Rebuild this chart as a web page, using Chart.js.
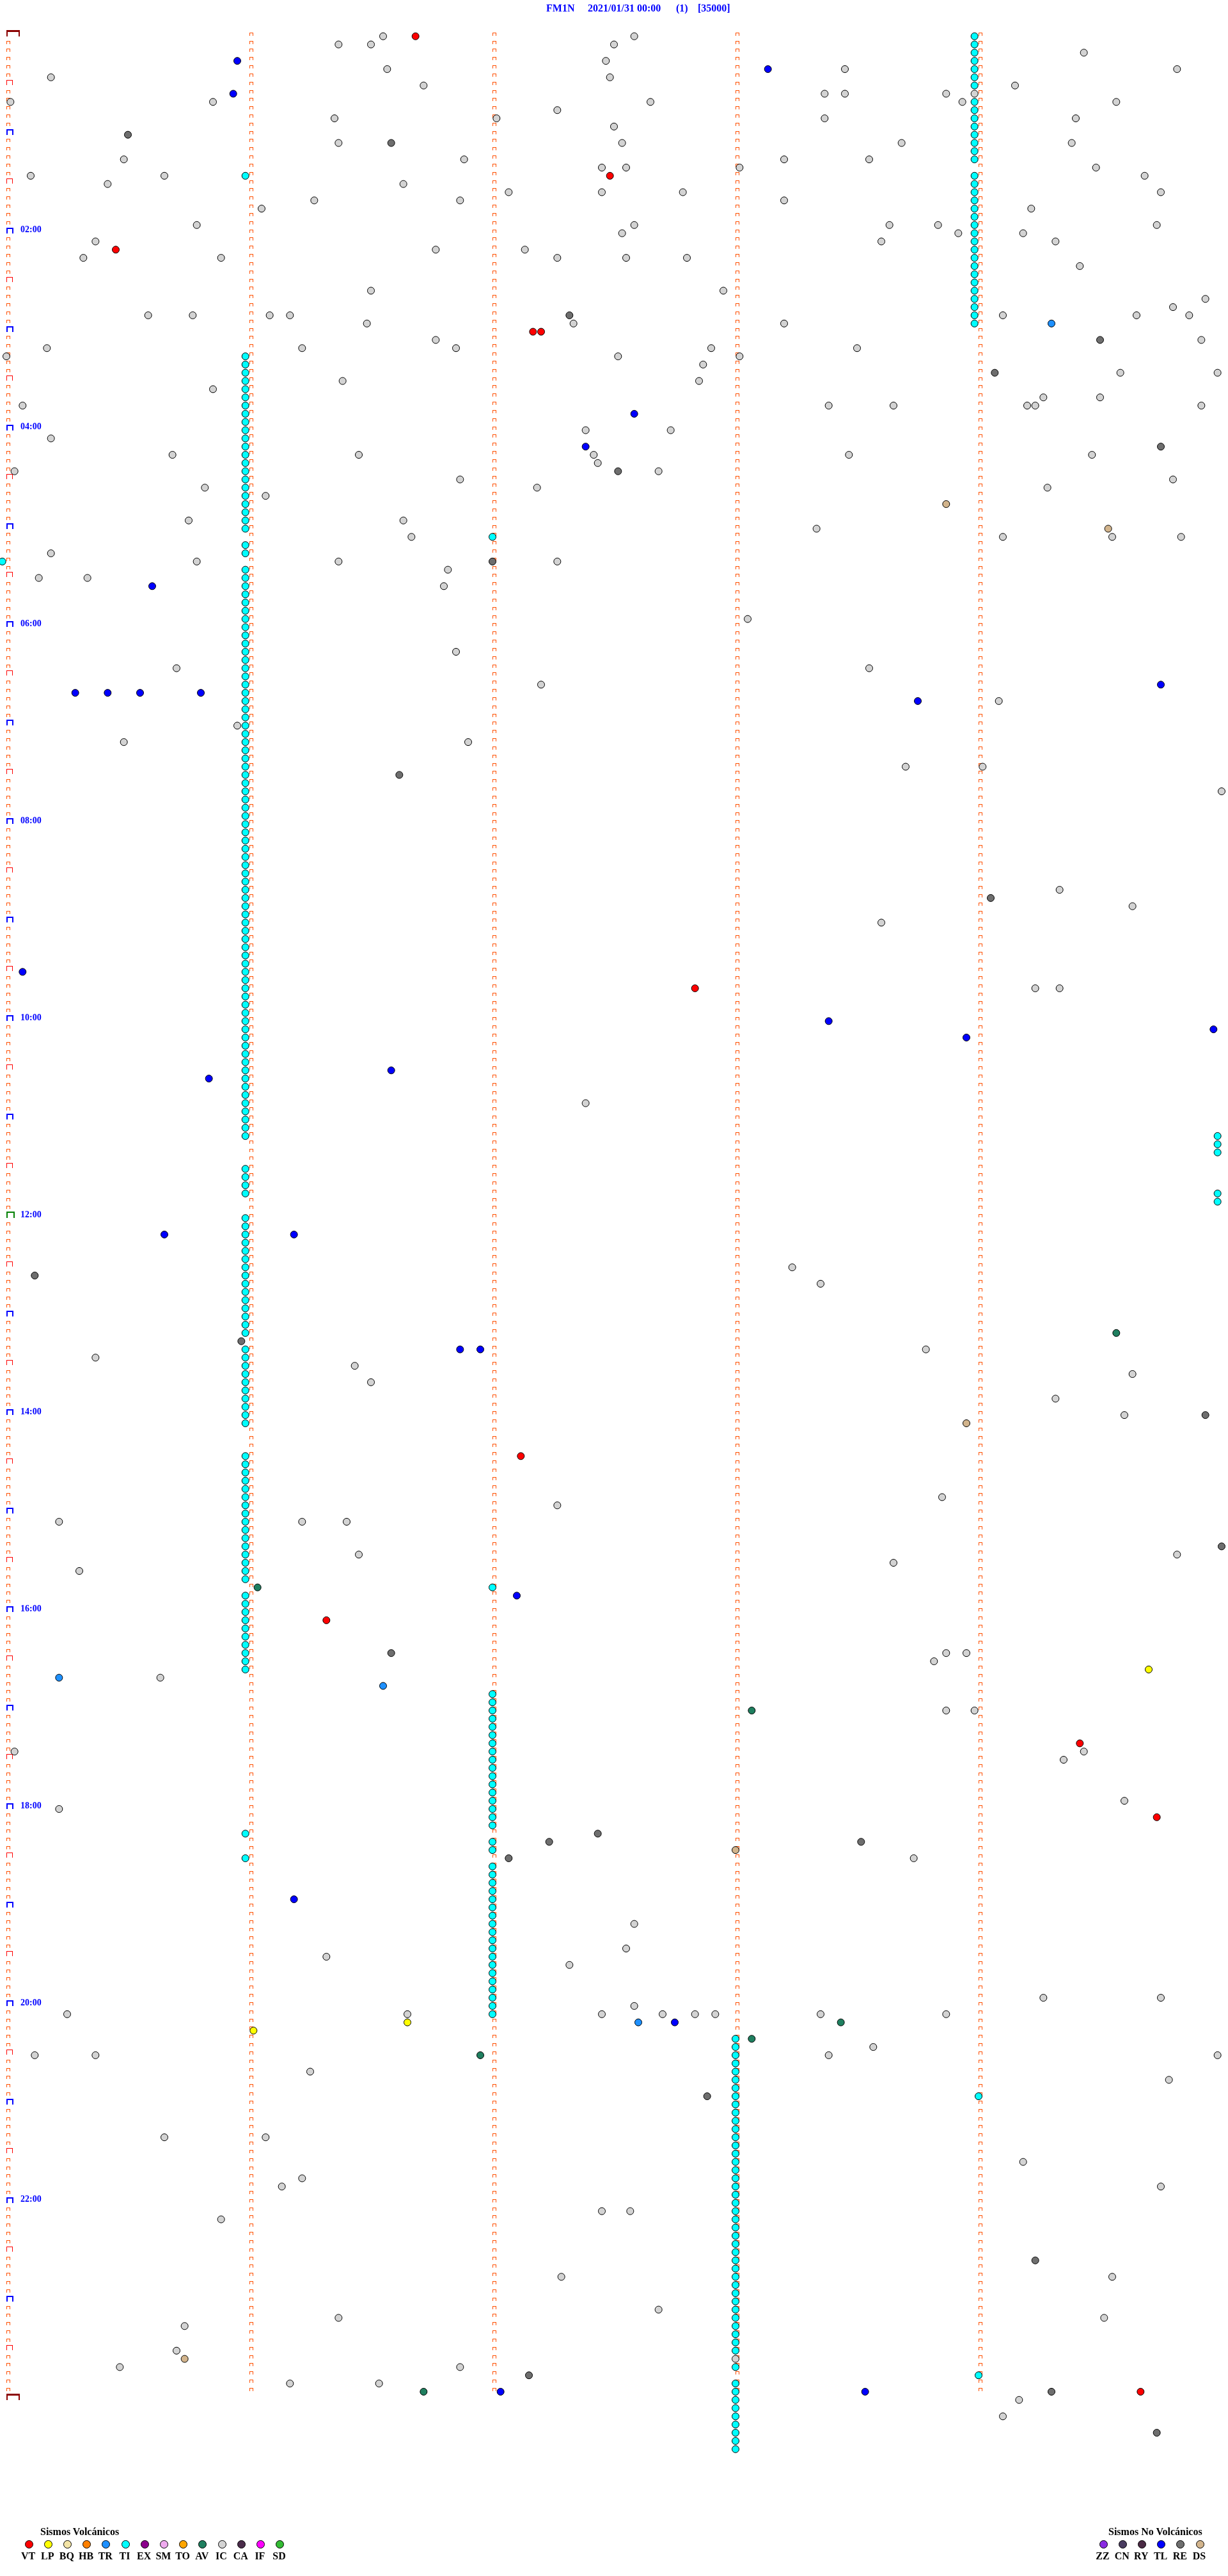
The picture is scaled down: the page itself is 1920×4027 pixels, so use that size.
<!DOCTYPE html>
<html>
<head>
<meta charset="utf-8">
<title>FM1N 2021/01/31</title>
<script src="https://cdn.jsdelivr.net/npm/chart.js@4.4.1/dist/chart.umd.min.js"></script>
<style>
  html, body { margin: 0; padding: 0; background: #fff; }
  #page { position: relative; width: 1920px; height: 4027px; overflow: hidden; }
  #heli { position: absolute; left: 0; top: 0; }
  .txt { position: absolute; font-family: "Liberation Serif", "Times New Roman", serif; font-weight: bold;
         font-size: 16px; line-height: 16px; white-space: nowrap; }
  .title { color: #0000ff; top: 5px; }
  .dot { position: absolute; width: 11px; height: 11px; border: 1px solid #000; border-radius: 50%; }
  .lbl { width: 40px; text-align: center; color: #000; }
</style>
</head>
<body>
<div id="page">
  <canvas id="heli" width="1920" height="4027"></canvas>
  <span class="txt title" style="left:854px">FM1N</span>
  <span class="txt title" style="left:919px">2021/01/31 00:00</span>
  <span class="txt title" style="left:1057px">(1)</span>
  <span class="txt title" style="left:1091px">[35000]</span>
  <span class="txt" style="left:63px;top:3950px">Sismos Volcánicos</span>
  <span class="txt" style="left:1733px;top:3950px">Sismos No Volcánicos</span>
  <div id="legend"></div>
</div>
<script>
// every event is [row, second]: a row is one 5 minute line of the day (row 0 = 00:00),
// second is where the event falls inside that line (0 - 300)
const VT = [[0, 101], [17, 149], [26, 27], [36, 130], [36, 132], [116, 170], [173, 127], [193, 79],
  [208, 265], [217, 284], [287, 280]];
const LP = [[199, 282], [242, 99], [243, 61]];
const TR = [[35, 258], [200, 13], [201, 93], [242, 156]];
const AV = [[158, 274], [189, 62], [204, 184], [242, 206], [244, 184], [246, 117], [287, 103]];
const TL = [[3, 57], [4, 188], [7, 56], [46, 155], [50, 143], [67, 36], [79, 285], [80, 17], [80, 25],
  [80, 33], [80, 48], [81, 225], [114, 4], [120, 203], [121, 298], [122, 237], [126, 95], [127, 50],
  [146, 39], [146, 71], [160, 112], [160, 117], [190, 126], [227, 71], [242, 165], [287, 122], [287, 212]];
const RE = [[12, 30], [13, 95], [34, 139], [37, 270], [41, 244], [50, 285], [53, 151], [64, 120],
  [90, 97], [105, 243], [151, 7], [159, 58], [168, 296], [184, 300], [197, 95], [219, 146], [220, 134],
  [220, 211], [222, 124], [251, 173], [271, 254], [285, 129], [287, 258], [292, 284]];
const DS = [[57, 232], [60, 272], [169, 237], [221, 180], [283, 44]];
const IC = [
  [0, 93], [0, 155], [1, 82], [1, 90], [1, 150], [2, 266], [3, 148], [4, 94], [4, 207], [4, 289],
  [5, 11], [5, 149], [6, 103], [6, 249], [7, 202], [7, 207], [7, 232], [7, 239], [8, 1], [8, 51],
  [8, 159], [8, 236], [8, 274], [9, 136], [10, 81], [10, 121], [10, 202], [10, 264], [11, 150],
  [13, 82], [13, 152], [13, 221], [13, 263], [15, 29], [15, 113], [15, 192], [15, 213], [16, 147],
  [16, 153], [16, 181], [16, 269], [17, 6], [17, 39], [17, 281], [18, 25], [18, 98], [19, 124],
  [19, 147], [19, 167], [19, 285], [20, 76], [20, 112], [20, 192], [21, 63], [21, 253], [23, 47],
  [23, 155], [23, 218], [23, 230], [23, 284], [24, 152], [24, 235], [24, 251], [25, 22], [25, 216],
  [25, 259], [26, 106], [26, 128], [27, 19], [27, 53], [27, 136], [27, 153], [27, 168], [28, 265],
  [31, 90], [31, 177], [32, 296], [33, 288], [34, 35], [34, 46], [34, 65], [34, 70], [34, 246],
  [34, 279], [34, 292], [35, 89], [35, 140], [35, 192], [37, 106], [37, 295], [38, 10], [38, 73],
  [38, 111], [38, 174], [38, 210], [39, 0], [39, 151], [39, 181], [40, 172], [41, 275], [41, 299],
  [42, 83], [42, 171], [43, 51], [44, 256], [44, 270], [45, 4], [45, 203], [45, 219], [45, 252],
  [45, 254], [45, 295], [48, 143], [48, 164], [49, 11], [51, 41], [51, 87], [51, 145], [51, 208],
  [51, 268], [52, 146], [53, 2], [53, 161], [54, 112], [54, 288], [55, 49], [55, 131], [55, 257],
  [56, 64], [59, 45], [59, 98], [60, 200], [61, 100], [61, 246], [61, 273], [61, 290], [63, 11],
  [64, 47], [64, 82], [64, 136], [65, 109], [66, 8], [66, 20], [67, 108], [71, 183], [75, 111],
  [77, 42], [77, 213], [79, 132], [81, 245], [84, 57], [86, 29], [86, 114], [89, 222], [89, 241],
  [92, 300], [104, 260], [106, 278], [108, 216], [116, 254], [116, 260], [130, 143], [150, 194],
  [152, 201], [160, 227], [161, 22], [162, 86], [163, 278], [164, 90], [166, 259], [168, 276],
  [178, 231], [179, 136], [181, 13], [181, 73], [181, 84], [185, 87], [185, 289], [186, 219],
  [187, 18], [197, 232], [197, 237], [198, 229], [200, 38], [204, 232], [204, 239], [209, 2],
  [209, 266], [210, 261], [215, 276], [216, 13], [222, 224], [230, 155], [233, 153], [234, 79],
  [235, 139], [239, 256], [239, 285], [240, 155], [241, 15], [241, 99], [241, 147], [241, 162],
  [241, 170], [241, 175], [241, 201], [241, 232], [245, 214], [246, 7], [246, 22], [246, 203],
  [246, 299], [248, 75], [249, 287], [256, 39], [256, 64], [259, 251], [261, 73], [262, 68],
  [262, 285], [265, 147], [265, 154], [266, 53], [273, 137], [273, 273], [277, 161], [278, 82],
  [278, 271], [279, 44], [282, 42], [283, 180], [284, 28], [284, 112], [286, 70], [286, 92],
  [288, 250], [290, 246]
];
// tremor (TI) comes as unbroken runs, one dot per line: [first row, last row, second]
const TI_RUNS = [
  [0, 6, 239], [8, 15, 239], [17, 35, 239], [251, 251, 240], [285, 285, 240],
  [17, 17, 59], [39, 60, 59], [62, 63, 59], [65, 134, 59], [138, 141, 59], [144, 158, 59],
  [160, 169, 59], [173, 188, 59], [190, 199, 59], [219, 219, 59], [222, 222, 59],
  [61, 61, 120], [189, 189, 120], [202, 218, 120], [220, 221, 120], [223, 241, 120],
  [244, 282, 180], [284, 284, 180], [286, 294, 180],
  [64, 64, -1], [134, 136, 299], [141, 142, 299]
];

const volcanicCodes = ['VT', 'LP', 'BQ', 'HB', 'TR', 'TI', 'EX', 'SM', 'TO', 'AV', 'IC', 'CA', 'IF', 'SD'];
const volcanicColors = ['#ff0000', '#ffff00', '#f3e4a6', '#ff8000', '#1e90ff', '#00ffff', '#8b008b',
  '#eeaaee', '#ffa500', '#1f7f5f', '#d3d3d3', '#4a2c4a', '#ff00ff', '#33bb33'];
const otherCodes = ['ZZ', 'CN', 'RY', 'TL', 'RE', 'DS'];
const otherColors = ['#8a2be2', '#4a3c60', '#4a2a44', '#0000ff', '#6e6e6e', '#d2b48c'];

const ROWS = 288;                 // 24 h of 5 minute lines
const minuteCols = [0, 60, 120, 180, 240];
const labelRows = [24, 48, 72, 96, 120, 144, 168, 192, 216, 240, 264];

// geometry of the sheet
const ROW_PX = 12.83, FIRST_ROW_PX = 56.7, H = 4027;
const X_MIN = -300 * 10 / 1900, X_MAX = 300 + 300 * 10 / 1900;
const Y_MIN = -FIRST_ROW_PX / ROW_PX, Y_MAX = Y_MIN + H / ROW_PX;

const colorOf = {};
volcanicCodes.forEach((c, i) => colorOf[c] = volcanicColors[i]);
otherCodes.forEach((c, i) => colorOf[c] = otherColors[i]);

const toPts = list => list.map(([r, s]) => ({ x: s, y: r }));
const tiPts = [];
TI_RUNS.forEach(([a, b, s]) => {
  for (let r = a; r <= b; r++) tiPts.push({ x: s, y: r });
});

// little "⊓" marks drawn at every minute of every line
function bracket(w, h, lift, bar, leg, color) {
  const size = 2 * (Math.max(w, h + lift) + 2);
  const c = document.createElement('canvas');
  c.width = size; c.height = size;
  const g = c.getContext('2d');
  g.fillStyle = color;
  const cx = size / 2, bottom = size / 2 - lift;
  g.fillRect(cx, bottom - h, w, bar);
  g.fillRect(cx, bottom - h, leg, h);
  g.fillRect(cx + w - leg, bottom - h, leg, h);
  return c;
}

const smallMarks = [], halfHour = [], hourMarks = [];
for (let r = 0; r < ROWS; r++) {
  minuteCols.forEach(c => {
    if (c > 0 || r % 6 !== 0) smallMarks.push({ x: c, y: r });
  });
  if (r % 12 === 6) halfHour.push({ x: 0, y: r });
  else if (r % 12 === 0 && r !== 0 && r !== 144) hourMarks.push({ x: 0, y: r });
}

function markSet(data, img) {
  return { data, pointStyle: img, pointRadius: 1, order: 3 };
}
function eventSet(code, data, order) {
  return {
    label: code, data, order: order || 1,
    pointStyle: 'circle', pointRadius: 5.5, pointBorderWidth: 1,
    pointBorderColor: '#000', pointBackgroundColor: colorOf[code]
  };
}

const datasets = [
  eventSet('VT', toPts(VT)), eventSet('LP', toPts(LP)), eventSet('TR', toPts(TR)),
  eventSet('AV', toPts(AV)), eventSet('TL', toPts(TL)), eventSet('RE', toPts(RE)),
  eventSet('DS', toPts(DS)), eventSet('IC', toPts(IC)), eventSet('TI', tiPts, 2),
  markSet(smallMarks, bracket(6, 5, 1, 1, 1, '#ff5000')),
  markSet(halfHour, bracket(10, 8, 1, 1, 1, '#ff0000')),
  markSet(hourMarks, bracket(11, 9, 0, 2, 2, '#0000ff')),
  markSet([{ x: 0, y: 144 }], bracket(13, 10, 0, 2, 2, '#008000')),
  markSet([{ x: 0, y: 0 }, { x: 0, y: ROWS }], bracket(21, 10, 0, 3, 2, '#8b0000'))
];

new Chart(document.getElementById('heli'), {
  type: 'scatter',
  data: { datasets },
  options: {
    responsive: false,
    animation: false,
    devicePixelRatio: 1,
    events: [],
    layout: { padding: 0, autoPadding: false },
    plugins: { legend: { display: false }, tooltip: { enabled: false }, title: { display: false } },
    scales: {
      x: { type: 'linear', display: false, min: X_MIN, max: X_MAX },
      y: {
        type: 'linear', reverse: true, min: Y_MIN, max: Y_MAX, position: 'left',
        grid: { display: false }, border: { display: false },
        afterBuildTicks: axis => { axis.ticks = labelRows.map(v => ({ value: v })); },
        // labels sit inside the sheet, so the axis must not eat any room
        afterFit: axis => {
          axis.width = 0;
          axis.paddingTop = 0;
          axis.paddingBottom = 0;
        },
        ticks: {
          mirror: true, padding: 32, labelOffset: -5, autoSkip: false, color: '#0000ff',
          font: { family: '"Liberation Serif", "Times New Roman", serif', size: 14, weight: 'bold' },
          callback: v => String(v / 12).padStart(2, '0') + ':00'
        }
      }
    }
  },
  plugins: [{
    id: 'crispMarks',
    beforeDatasetsDraw(chart) { chart.ctx.imageSmoothingEnabled = false; }
  }]
});

// legend rows under the sheet
const legend = document.getElementById('legend');
function legendRow(codes, x0) {
  codes.forEach((code, i) => {
    const cx = x0 + i * 30.2;
    const d = document.createElement('div');
    d.className = 'dot';
    d.style.left = (cx - 6.5) + 'px';
    d.style.top = (3977 - 6.5) + 'px';
    d.style.background = colorOf[code];
    legend.appendChild(d);
    const t = document.createElement('span');
    t.className = 'txt lbl';
    t.style.left = (cx - 21) + 'px';
    t.style.top = '3988px';
    t.textContent = code;
    legend.appendChild(t);
  });
}
legendRow(volcanicCodes, 45);
legendRow(otherCodes, 1725);
</script>
</body>
</html>
